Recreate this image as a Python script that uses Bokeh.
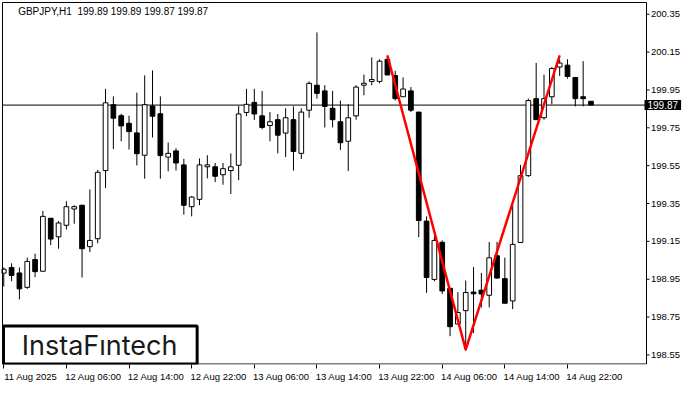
from bokeh.plotting import figure
from bokeh.models import (ColumnDataSource, Range1d, FixedTicker, Label, BoxAnnotation)
from bokeh.core.properties import value
from bokeh.embed import file_html
from bokeh.resources import INLINE

symbol = "GBPJPY"
timeframe = "H1"

opens = [198.982, 199.012, 198.983, 198.907, 199.054, 198.992, 199.272, 199.174, 199.235, 199.321,
         199.341, 199.122, 199.164, 199.524, 199.872, 199.814, 199.774, 199.723, 199.605, 199.865,
         199.824, 199.595, 199.628, 199.554, 199.333, 199.372, 199.544, 199.544, 199.502, 199.524,
         199.552, 199.831, 199.884, 199.813, 199.762, 199.793, 199.722, 199.793, 199.615, 199.843,
         199.975, 199.945, 199.853, 199.782, 199.679, 199.813, 199.975, 199.995, 199.995, 200.112,
         200.026, 199.914, 199.945, 199.833, 199.257, 198.949, 199.145, 198.902, 198.713, 198.784,
         198.882, 198.892, 198.865, 199.074, 198.953, 198.835, 199.144, 199.497, 199.904, 199.803,
         199.914, 200.071, 200.081, 200.016, 199.914, 199.890]
highs = [199.012, 199.034, 199.012, 199.064, 199.085, 199.311, 199.272, 199.257, 199.362, 199.341,
         199.341, 199.424, 199.527, 199.956, 199.916, 199.824, 199.814, 199.936, 200.027, 200.053,
         199.916, 199.672, 199.642, 199.586, 199.389, 199.588, 199.605, 199.564, 199.564, 199.615,
         199.865, 199.956, 199.956, 199.945, 199.833, 199.823, 199.853, 199.863, 199.853, 199.995,
         200.254, 199.975, 199.945, 199.894, 199.874, 199.975, 200.031, 200.122, 200.112, 200.132,
         200.051, 200.016, 199.965, 199.833, 199.282, 199.176, 199.155, 198.902, 198.882, 198.943,
         199.014, 198.983, 199.147, 199.147, 199.064, 199.341, 199.554, 199.904, 200.093, 200.031,
         200.071, 200.112, 200.112, 200.016, 200.102, 199.890]
lows = [198.911, 198.939, 198.843, 198.899, 198.961, 198.992, 199.130, 199.111, 199.213, 199.243,
        198.959, 199.093, 199.140, 199.431, 199.638, 199.679, 199.635, 199.551, 199.481, 199.699,
        199.481, 199.520, 199.524, 199.291, 199.282, 199.341, 199.483, 199.463, 199.449, 199.400,
        199.473, 199.811, 199.791, 199.742, 199.679, 199.615, 199.595, 199.524, 199.585, 199.803,
        199.904, 199.752, 199.752, 199.633, 199.522, 199.793, 199.922, 199.975, 199.985, 200.029,
        199.894, 199.914, 199.833, 199.172, 198.878, 198.939, 198.872, 198.649, 198.713, 198.571,
        198.665, 198.801, 198.801, 198.953, 198.823, 198.792, 199.144, 199.491, 199.793, 199.793,
        199.874, 200.024, 200.010, 199.863, 199.863, 199.870]
closes = [199.003, 198.970, 198.899, 199.044, 198.990, 199.282, 199.162, 199.247, 199.333, 199.333,
          199.111, 199.155, 199.515, 199.882, 199.801, 199.760, 199.730, 199.613, 199.872, 199.811,
          199.603, 199.615, 199.564, 199.341, 199.384, 199.554, 199.554, 199.494, 199.534, 199.544,
          199.823, 199.874, 199.823, 199.752, 199.782, 199.711, 199.803, 199.625, 199.833, 199.985,
          199.932, 199.863, 199.793, 199.671, 199.803, 199.965, 199.985, 200.005, 200.102, 200.029,
          199.904, 199.955, 199.843, 199.260, 198.959, 199.155, 198.888, 198.699, 198.774, 198.880,
          198.873, 198.872, 199.063, 198.956, 198.823, 199.134, 199.497, 199.894, 199.793, 199.904,
          200.063, 200.092, 200.021, 199.904, 199.904, 199.870]

# pattern line: bar index and price
pattern_idx = [49, 59, 71]
pattern_price = [200.132, 198.578, 200.132]

current_price = 199.87

# x-axis time labels (every 8 bars)
tick_bars = [0, 8, 16, 24, 32, 40, 48, 56, 64, 72]
tick_labels = ["11 Aug 2025", "12 Aug 06:00", "12 Aug 14:00", "12 Aug 22:00", "13 Aug 06:00",
               "13 Aug 14:00", "13 Aug 22:00", "14 Aug 06:00", "14 Aug 14:00", "14 Aug 22:00"]
price_ticks = [198.55, 198.75, 198.95, 199.15, 199.35, 199.55, 199.75, 199.95, 200.15, 200.35]

idx = list(range(len(opens)))
src = ColumnDataSource(dict(
    x=idx, o=opens, h=highs, l=lows, c=closes,
    top=[max(a, b) for a, b in zip(opens, closes)],
    bot=[min(a, b) for a, b in zip(opens, closes)],
    fill=["white" if c >= o else "black" for o, c in zip(opens, closes)],
))

FONT = "Liberation Sans"
W, H = 684, 384
BL, BT, BB = 1, 1, 19
# visible chart box (in canvas px): left 2, right 646, top 2, bottom 364.5
VX0, VX1 = -0.16, 82.09            # bars shown inside the box
VY0, VY1 = 198.502, 200.412        # prices shown inside the box
S = (646 - 2) / (VX1 - VX0)         # px per bar
PPP = (VY1 - VY0) / (364.5 - 2)     # price per px

p = figure(width=W, height=H, output_backend="svg", toolbar_location=None,
           x_range=Range1d(VX0 - 1 / S, VX1 + (W - 646) / S),
           y_range=Range1d(VY0 - 0.5 * PPP, VY1 + 1 * PPP),
           y_axis_location=None,
           min_border_left=BL, min_border_top=BT, min_border_right=0, min_border_bottom=BB)
p.background_fill_color = "white"
p.border_fill_color = "white"
p.outline_line_color = None
p.xgrid.visible = False
p.ygrid.visible = False

# bottom axis: tick marks at the bars (minor ticks), labels shifted to start at the tick
LABEL_SHIFT = 3.45
label_pos = [b + LABEL_SHIFT for b in tick_bars]
xa = p.xaxis[0]
xa.ticker = FixedTicker(ticks=label_pos, minor_ticks=tick_bars)
xa.major_label_overrides = {pos: t for pos, t in zip(label_pos, tick_labels)}
xa.major_tick_line_color = None
xa.minor_tick_line_color = "black"
xa.minor_tick_out = 4
xa.minor_tick_in = 0
xa.axis_line_color = None
xa.major_label_standoff = 0
xa.major_label_text_font = FONT
xa.major_label_text_font_size = "9.5px"
xa.major_label_text_color = "black"

# chart box
p.add_layout(BoxAnnotation(left=VX0, right=VX1, bottom=VY0, top=VY1, fill_alpha=0,
                           line_color="black", line_width=1, line_alpha=1.0))

# right price scale: tick marks and labels
p.segment(x0=[VX1] * len(price_ticks), x1=[VX1 + 3 / S] * len(price_ticks),
          y0=price_ticks, y1=price_ticks, line_color="black", line_width=1)
p.text(x=[VX1 + 4.5 / S] * len(price_ticks), y=price_ticks,
       text=[f"{v:.2f}" for v in price_ticks], text_font=value(FONT),
       text_font_size=value("9.5px"), text_align="left", text_baseline="middle",
       text_color="black")

# current price line
p.segment(x0=[VX0], x1=[VX1], y0=[current_price], y1=[current_price],
          line_color="black", line_width=1)

# candles
p.segment(x0="x", y0="l", x1="x", y1="h", source=src, line_color="black", line_width=1)
p.vbar(x="x", width=0.6, top="top", bottom="bot", source=src,
       fill_color="fill", line_color="black", line_width=1)

# pattern line
p.line(pattern_idx, pattern_price, line_color="#ff0000", line_width=2.5)

# title (second space kept as a no-break space so it is not collapsed)
title = (f"{symbol},{timeframe} \u00a0{opens[-1]:.2f} {highs[-1]:.2f} "
         f"{lows[-1]:.2f} {closes[-1]:.2f}")
p.add_layout(Label(x=1.84, y=VY1, y_offset=-9, text=title, text_font=FONT, text_font_size="10px",
                   text_baseline="middle", text_color="black"))

# current price tag on the scale
p.add_layout(Label(x=VX1, x_offset=-2, y=current_price, text=f"{current_price:.2f}",
                   text_font=FONT, text_font_size="10px", text_baseline="middle",
                   text_color="white", background_fill_color="black", padding=(3, 1)))

# logo
box_top = VY0 + 38 * PPP
p.add_layout(BoxAnnotation(left=VX0 + 1 / S, right=24.7, bottom=VY0, top=box_top,
                           fill_color="white", fill_alpha=1.0, line_color="black",
                           line_width=3, line_alpha=1.0))
p.add_layout(Label(x=2.3, y=(VY0 + box_top) / 2, text="InstaF\u0131ntech", text_font="Inter",
                   text_font_size="27px", text_baseline="middle", text_color="#1a1a1a"))

open("out.html", "w").write(file_html(p, INLINE))
